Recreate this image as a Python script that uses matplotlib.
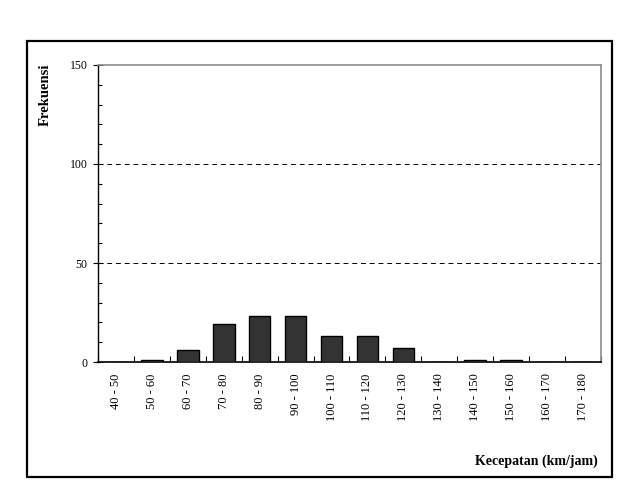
import matplotlib
matplotlib.use("Agg")
import matplotlib.pyplot as plt
from matplotlib.patches import Rectangle
import numpy as np

categories = ["40 - 50", "50 - 60", "60 - 70", "70 - 80", "80 - 90", "90 - 100",
              "100 - 110", "110 - 120", "120 - 130", "130 - 140", "140 - 150",
              "150 - 160", "160 - 170", "170 - 180"]
frekuensi = [0, 1, 6, 19, 23, 23, 13, 13, 7, 0, 1, 1, 0, 0]
y_ticks = [0, 50, 100, 150]

plt.rcParams['font.family'] = ['Liberation Serif', 'DejaVu Serif']

fig = plt.figure(figsize=(6.37, 5.01), dpi=100)
fig.patch.set_facecolor('white')

# outer frame
fig.add_artist(Rectangle((0.0424, 0.0479), 0.9608 - 0.0424, 0.9182 - 0.0479,
                         transform=fig.transFigure, fill=False,
                         edgecolor='black', linewidth=1.6, zorder=0))

ax = fig.add_axes([0.1538, 0.2774, 0.9435 - 0.1538, 0.8703 - 0.2774])
x = np.arange(len(categories))
ax.bar(x, frekuensi, width=0.6, color='#333333', edgecolor='black',
       linewidth=1.0, zorder=3)

ax.set_xlim(-0.5, len(categories) - 0.5)
ax.set_ylim(0, 150)

# grid
for v in [50, 100]:
    ax.axhline(v, color='black', linestyle=(0, (5, 4)), linewidth=0.7, zorder=1)

ax.spines['left'].set_color('black')
ax.spines['bottom'].set_color('black')
ax.spines['left'].set_linewidth(1.0)
ax.spines['bottom'].set_linewidth(1.2)
ax.spines['top'].set_color('#8c8c8c')
ax.spines['right'].set_color('#8c8c8c')
ax.spines['top'].set_linewidth(1.2)
ax.spines['right'].set_linewidth(1.2)

ax.set_yticks(y_ticks)
ax.set_yticklabels([str(v) for v in y_ticks], fontsize=8.5)
ax.set_yticks(np.arange(0, 151, 10), minor=True)
ax.tick_params(axis='y', which='major', direction='inout', length=7, width=0.8, pad=4)
ax.tick_params(axis='y', which='minor', direction='in', length=3, width=0.8)

ax.set_xticks(np.arange(-0.5, len(categories) + 0.5, 1.0))
ax.set_xticklabels([])
ax.set_xticks(x, minor=True)
ax.set_xticklabels(categories, minor=True, rotation=90, fontsize=9, va='top', ha='center')
ax.tick_params(axis='x', which='major', direction='in', length=4, width=0.8)
ax.tick_params(axis='x', which='minor', length=0, pad=8)

fig.text(45 / 637, 1 - 64 / 501, "Frekuensi", rotation=90, ha='center', va='top',
         fontsize=10.5, fontweight='bold')
fig.text(598 / 637, 1 - 461 / 501, "Kecepatan (km/jam)", ha='right', va='center',
         fontsize=10, fontweight='bold')

fig.savefig("out.png", dpi=100, facecolor='white')
